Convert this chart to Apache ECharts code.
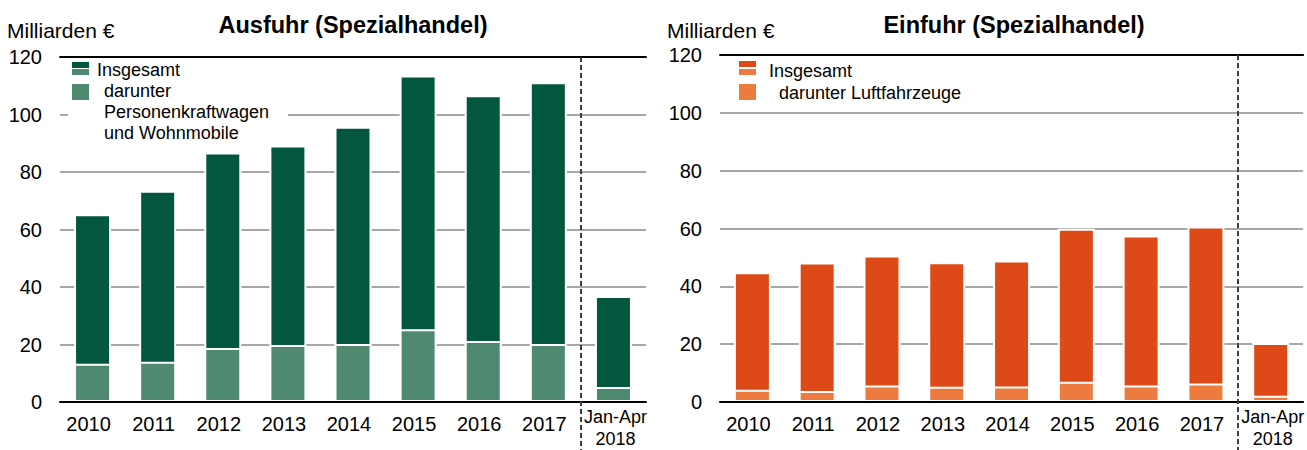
<!DOCTYPE html>
<html>
<head>
<meta charset="utf-8">
<script src="https://cdn.jsdelivr.net/npm/echarts@6/dist/echarts.min.js"></script>
<style>
html,body{margin:0;padding:0;background:#fff;}
#chart{width:1307px;height:450px;}
</style>
</head>
<body>
<div id="chart"></div>
<script>
// ---- data ----
var categories = ['2010','2011','2012','2013','2014','2015','2016','2017','Jan-Apr\n2018'];
var exportTotal = [65.3, 73.5, 86.8, 89.2, 95.7, 113.6, 106.7, 111.2, 36.9];
var exportCars  = [13.3, 14.0, 18.8, 19.8, 20.2, 25.3, 21.2, 20.2, 5.2];
var importTotal = [44.9, 48.2, 50.7, 48.3, 48.9, 59.9, 57.6, 60.7, 20.4];
var importAircraft = [4.2, 3.8, 5.7, 5.3, 5.4, 7.0, 5.7, 6.4, 2.2];
var yTicks = [0, 20, 40, 60, 80, 100, 120];
var titles = ['Ausfuhr (Spezialhandel)', 'Einfuhr (Spezialhandel)'];
var unitLabel = 'Milliarden €';
var legendExport = ['Insgesamt', 'darunter\nPersonenkraftwagen\nund Wohnmobile'];
var legendImport = ['Insgesamt', 'darunter Luftfahrzeuge'];

var FONT = "'Liberation Sans', Arial, sans-serif";
var C = {
  expDark: '#03573f', expLight: '#4f8a70',
  impDark: '#dd4a17', impLight: '#ed7a3e',
  grid: '#8a8a8a', dash: '#3c3c3c'
};

var chart = echarts.init(document.getElementById('chart'), null, {renderer: 'svg'});

var lastIdx = categories.length - 1;
function catData() {
  return categories.map(function (c, i) {
    if (i === lastIdx) {
      return {value: c, textStyle: {fontSize: 18, lineHeight: 22, padding: [0, 0, 0, 4]}};
    }
    return c;
  });
}
function xCat(gi) {
  return {
    type: 'category', gridIndex: gi, data: catData(), z: 10,
    axisLine: {show: true, lineStyle: {color: '#000', width: 2}},
    axisTick: {show: false},
    splitLine: {show: false},
    axisLabel: {fontFamily: FONT, fontSize: 20, color: '#000', margin: 4, lineHeight: 36, interval: 0, padding: [0, 8, 0, 0]}
  };
}
function xTop(gi) {
  return {
    type: 'category', gridIndex: gi, position: 'top', data: categories, z: 10,
    axisLine: {show: true, lineStyle: {color: '#000', width: 2}},
    axisTick: {show: false}, axisLabel: {show: false}, splitLine: {show: false}
  };
}
function yVal(gi) {
  return {
    type: 'value', gridIndex: gi, min: yTicks[0], max: yTicks[yTicks.length - 1], interval: yTicks[1] - yTicks[0],
    axisLine: {show: false}, axisTick: {show: false},
    axisLabel: {fontFamily: FONT, fontSize: 20, color: '#000', margin: 18},
    splitLine: {show: true, lineStyle: {color: C.grid, width: 1.5}}
  };
}
function bar(name, xi, yi, data, color, overlay) {
  var s = {
    name: name, type: 'bar', xAxisIndex: xi, yAxisIndex: yi, data: data,
    barWidth: 37,
    itemStyle: {color: color, borderColor: '#ffffff', borderWidth: 2},
    emphasis: {disabled: true}, animation: false
  };
  if (overlay) s.barGap = '-100%';
  return s;
}

function txt(t, x, y, opt) {
  var st = Object.assign({text: t, x: x, y: y, fill: '#000', font: '18px ' + FONT, verticalAlign: 'middle', align: 'left'}, opt || {});
  return {type: 'text', z: 30, style: st, silent: true};
}
function rect(x, y, w, h, color, z) {
  return {type: 'rect', z: z || 30, shape: {x: x, y: y, width: w, height: h}, style: {fill: color}, silent: true};
}

var graphics = [
  txt(titles[0], 353, 25, {font: 'bold 23.5px ' + FONT, align: 'center'}),
  txt(titles[1], 1014, 25, {font: 'bold 23.5px ' + FONT, align: 'center'}),
  txt(unitLabel, 7, 30, {font: '21px ' + FONT}),
  txt(unitLabel, 667, 30, {font: '21px ' + FONT}),
  // left legend
  rect(68, 58, 220, 86, '#ffffff', 25),
  rect(72, 62, 17, 6, C.expDark),
  rect(72, 69, 17, 6, C.expLight),
  txt(legendExport[0], 97, 70),
  rect(72, 84, 17, 16, C.expLight),
  txt(legendExport[1], 104, 80.5, {verticalAlign: 'top', lineHeight: 21}),
  // right legend
  rect(739, 61, 17, 6, C.impDark),
  rect(739, 69, 17, 6, C.impLight),
  txt(legendImport[0], 769, 71),
  rect(739, 84, 17, 16, C.impLight),
  txt(legendImport[1], 779, 93)
];

chart.setOption({
  animation: false,
  backgroundColor: '#ffffff',
  textStyle: {fontFamily: FONT},
  grid: [
    {left: 60, right: 661, top: 57, bottom: 42, containLabel: false},
    {left: 720, right: 0, top: 55, bottom: 43.5, containLabel: false}
  ],
  xAxis: [xCat(0), xCat(1), xTop(0), xTop(1)],
  yAxis: [yVal(0), yVal(1)],
  series: [
    bar(legendExport[0], 0, 0, exportTotal, C.expDark, false),
    bar('darunter Personenkraftwagen und Wohnmobile', 0, 0, exportCars, C.expLight, true),
    bar(legendImport[0], 1, 1, importTotal, C.impDark, false),
    bar(legendImport[1], 1, 1, importAircraft, C.impLight, true)
  ]
});

function px(v) { return Array.isArray(v) ? v[0] : v; }
function py(v) { return Array.isArray(v) ? v[1] : v; }
// dashed separator between the yearly bars and the partial-year bar, positioned via the axes
[0, 1].forEach(function (gi) {
  var xa = px(chart.convertToPixel({xAxisIndex: gi}, lastIdx - 1));
  var xb = px(chart.convertToPixel({xAxisIndex: gi}, lastIdx));
  var x = Math.round((xa + xb) / 2);
  var yTop = py(chart.convertToPixel({yAxisIndex: gi}, yTicks[yTicks.length - 1]));
  graphics.push({
    type: 'line', z: 20, silent: true,
    shape: {x1: x, y1: yTop, x2: x, y2: chart.getHeight()},
    style: {stroke: C.dash, lineWidth: 2, lineDash: [5, 3]}
  });
});
chart.setOption({graphic: graphics});
</script>
</body>
</html>
